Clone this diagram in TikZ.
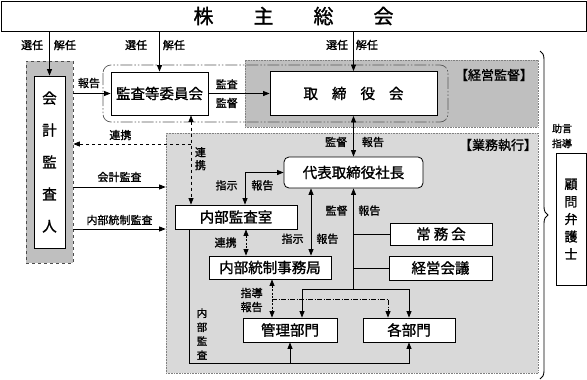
\documentclass[tikz,border=0pt]{standalone}
\usepackage{fontspec}
\setmainfont{Noto Sans CJK JP}[FakeBold=1.2]
\usetikzlibrary{arrows.meta,positioning,decorations.pathreplacing}

\begin{document}
\begin{tikzpicture}[x=1pt, y=-1pt, line width=0.8pt,
    >={Triangle[length=6.5pt,width=5pt]},
    box/.style={draw, fill=white, inner sep=0pt, font=\fontsize{14.5}{16}\selectfont},
    region/.style={draw=gray, densely dotted, line width=0.6pt, inner sep=0pt},
    lbl/.style={inner sep=1pt, font=\fontsize{11}{13}\selectfont},
    dotline/.style={dash pattern=on 2pt off 1.5pt},
    dashdot/.style={dash pattern=on 5pt off 1.5pt on 1pt off 1.5pt},
    frame/.style={draw=black!65, line width=0.7pt, rounded corners=8pt,
        dash pattern=on 12pt off 2pt on 1.5pt off 2pt on 1.5pt off 2pt}]

    % Fix the size of the picture
    \useasboundingbox (0,0) rectangle (587,380);

    % Shareholders meeting across the top
    \node[box, minimum width=585pt, minimum height=30pt, font=\fontsize{20}{22}\selectfont]
        (soukai) at (293.5,16) {株\hspace{40pt}主\hspace{40pt}総\hspace{40pt}会};

    % Shaded regions
    \node[region, fill=gray!50, minimum width=293pt, minimum height=67pt] (keiei) at (391.5,93.5) {};
    \node[region, fill=gray!30, minimum width=372pt, minimum height=240pt] (gyomu) at (352,253) {};
    \node[region, draw=black!70, dashed, fill=gray!50, minimum width=47pt, minimum height=202pt]
        (kaikeiout) at (49.5,162) {};
    \node[lbl, font=\fontsize{13}{15}\selectfont] (keieilbl) at (494,75) {【経営監督】};
    \node[lbl, font=\fontsize{13}{15}\selectfont] (gyomulbl) at (498,145) {【業務執行】};

    % Dash-dot frame round the committee and the board
    \draw[frame] (103,65) rectangle (448,122);

    % Boxes
    \node[box, minimum width=31pt, minimum height=172pt, align=center, font=\fontsize{14.5}{32}\selectfont]
        (kaikei) at (49.5,162) {会\\計\\監\\査\\人};
    \node[box, minimum width=97pt, minimum height=43pt] (iinkai) at (159.5,93.5) {監査等委員会};
    \node[box, minimum width=167pt, minimum height=44pt] (torishimari) at (353.5,93.5)
        {取\hspace{14pt}締\hspace{14pt}役\hspace{14pt}会};
    \node[box, rounded corners=5pt, minimum width=139pt, minimum height=31pt] (shacho) at (353.5,172.5) {代表取締役社長};
    \node[box, minimum width=122pt, minimum height=24pt] (kansashitsu) at (236,217) {内部監査室};
    \node[box, minimum width=122pt, minimum height=23pt] (jimukyoku) at (270,267.5) {内部統制事務局};
    \node[box, minimum width=102pt, minimum height=22pt] (joumu) at (441,234) {常\hspace{3pt}務\hspace{3pt}会};
    \node[box, minimum width=103pt, minimum height=24pt] (kaigi) at (440.5,268) {経営会議};
    \node[box, minimum width=94pt, minimum height=24pt] (kanri) at (290,330) {管理部門};
    \node[box, minimum width=92pt, minimum height=24pt] (kakubu) at (409,330) {各部門};
    \node[box, minimum width=30pt, minimum height=132pt, align=center, font=\fontsize{13}{17.5}\selectfont]
        (komon) at (571,219) {顧\\問\\弁\\護\\士};
    \node[lbl, align=center, font=\fontsize{10}{15}\selectfont] (jogen) at (562,136) {助言\\指導};

    % Helper coordinates for the free ends
    \coordinate (rk) at (191,144);
    \coordinate (ka) at (0,187);
    \coordinate (nt) at (0,229);
    \coordinate (sj) at (311,0);
    \coordinate (bus) at (353.5,289);
    \coordinate (rt) at (246,0);
    \coordinate (sh) at (272,299);
    \coordinate (na) at (189,363);

    % Appointment and dismissal from the shareholders meeting
    \draw[->] (soukai.south -| kaikei.north) -- (kaikei.north)
        node[lbl, pos=0.31, left=5pt] (s1) {選任} node[lbl, pos=0.31, right=3pt] (k1) {解任};
    \draw[->] (soukai.south -| iinkai.north) -- (iinkai.north)
        node[lbl, pos=0.34, left=11pt] (s2) {選任} node[lbl, pos=0.34, right=2pt] (k2) {解任};
    \draw[->] (soukai.south -| torishimari.north) -- (torishimari.north)
        node[lbl, pos=0.34, left=4pt] (s3) {選任} node[lbl, pos=0.34, right=1pt] (k3) {解任};

    % Audit committee links
    \draw[->] (kaikeiout.east |- iinkai.west) -- (iinkai.west)
        node[lbl, pos=0.42, above=4pt] (h1) {報告};
    \draw[->] (iinkai.east) -- (torishimari.west)
        node[lbl, pos=0.3, above=3pt] (m1) {監査} node[lbl, pos=0.3, below=3pt] (m2) {監督};
    \draw[<->] (torishimari.south) -- (shacho.north)
        node[lbl, pos=0.64, left=5pt] (m3) {監督} node[lbl, pos=0.64, right=7pt] (h2) {報告};

    % Cooperation (dashed)
    \draw[dashed, <->] (iinkai.south -| rk) -- (kansashitsu.north -| rk)
        node[lbl, align=center, pos=0.485, right=2.5pt] (r1) {連\\携};
    \draw[dashed, ->] (rk) -- (rk -| kaikeiout.east)
        node[lbl, pos=0.6, above=2.5pt] (r2) {連携};

    % Audits by the accounting auditor
    \draw[->] (kaikeiout.east |- ka) -- (gyomu.west |- ka)
        node[lbl, midway, above=3.5pt] (a1) {会計監査};
    \draw[->] (kaikeiout.east |- nt) -- (gyomu.west |- nt)
        node[lbl, midway, above=2.5pt] (a2) {内部統制監査};

    % President and internal units
    \draw[<->] ([xshift=9pt]kansashitsu.north) |- (shacho.west)
        node[lbl, pos=0.3, left=6pt] (i1) {指示} node[lbl, pos=0.3, right=5pt] (h3) {報告};
    \draw[<->] (shacho.south -| sj) -- (jimukyoku.north -| sj)
        node[lbl, pos=0.75, left=6pt] (i2) {指示} node[lbl, pos=0.75, right=4pt] (h4) {報告};

    % Reporting line to the president
    \draw[->] (bus) -- (shacho.south)
        node[lbl, pos=0.78, left=4.5pt] (m4) {監督} node[lbl, pos=0.78, right=3.5pt] (h5) {報告};
    \draw (bus |- joumu.west) -- (joumu.west);
    \draw (bus |- kaigi.west) -- (kaigi.west);
    \draw[->] (bus) -| ([xshift=12pt]kanri.north);
    \draw[->] (bus) -| (kakubu.north);

    % Internal control office
    \draw[dotline, <->] (kansashitsu.south -| rt) -- (jimukyoku.north -| rt)
        node[lbl, midway, left=8pt] (r3) {連携};
    \draw[dotline, <->] (jimukyoku.south -| sh) -- (kanri.north -| sh)
        node[lbl, align=center, pos=0.54, left=8pt, font=\fontsize{11}{14}\selectfont] (g1) {指導\\報告};
    \draw[dashdot, ->] (sh) -| ([xshift=-21pt]kakubu.north);

    % Internal audit
    \draw[->] (kansashitsu.south -| na) |- (kakubu.south |- na) -- (kakubu.south);
    \draw[->] (kanri.south |- na) -- (kanri.south);
    \node[lbl, align=center, font=\fontsize{10.5}{14}\selectfont] (naibulbl) at (202,334) {内\\部\\監\\査};

    % Brace for the legal advisors
    \draw[line width=0.9pt, decorate, decoration={brace, amplitude=8pt}] (540,51) -- (540,379);
\end{tikzpicture}
\end{document}
